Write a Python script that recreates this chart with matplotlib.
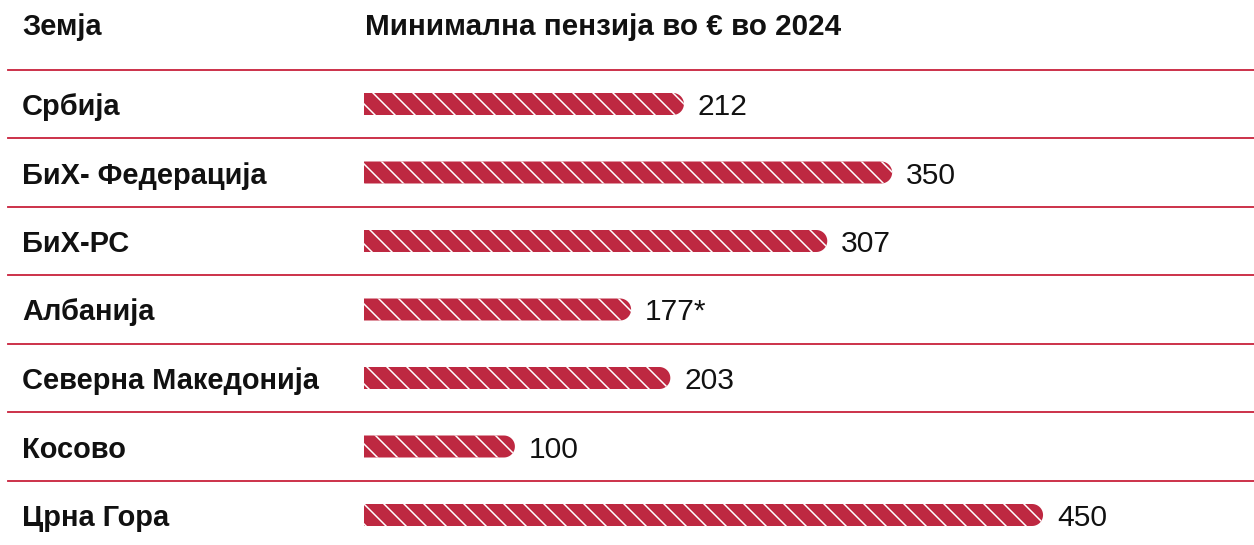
import numpy as np
import matplotlib.pyplot as plt
from matplotlib.path import Path
from matplotlib.patches import PathPatch
from matplotlib.transforms import blended_transform_factory

plt.rcParams['font.family'] = ['Liberation Sans', 'DejaVu Sans']
plt.rcParams['hatch.linewidth'] = 0.9

countries = ['Србија', 'БиХ- Федерација', 'БиХ-РС', 'Албанија',
             'Северна Македонија', 'Косово', 'Црна Гора']
pension = [212, 350, 307, 177, 203, 100, 450]
notes = ['', '', '', '*', '', '', '']

header_left = 'Земја'
header_right = 'Минимална пензија во € во 2024'

RED = '#be2841'
LINE = '#c9253f'

W, H, DPI = 1254, 545, 120
fig = plt.figure(figsize=(W / DPI, H / DPI), dpi=DPI)
ax = fig.add_axes([0, 0, 1, 1])

# pixel layout -> data scales
x0_px, px_per_unit = 364, 1.509
y0_px, row_px = 104, 68.5
ax.set_xlim(-x0_px / px_per_unit, (W - x0_px) / px_per_unit)
ax.set_ylim((H - y0_px) / row_px, -y0_px / row_px)
ax.axis('off')

bar_h_px = 22
ry = bar_h_px / 2 / row_px
rx = bar_h_px / 2 / px_per_unit
dy = 3 / row_px  # nudge text down a bit


def rounded_bar(v, y):
    t = np.linspace(np.pi / 2, -np.pi / 2, 30)
    xs = [0, v - rx] + list(v - rx + rx * np.cos(t)) + [0, 0]
    ys = [y - ry, y - ry] + list(y - ry * np.sin(t)) + [y + ry, y - ry]
    verts = list(zip(xs, ys))
    codes = [Path.MOVETO] + [Path.LINETO] * (len(verts) - 2) + [Path.CLOSEPOLY]
    return Path(verts, codes)


tr = blended_transform_factory(ax.transAxes, ax.transData)

for i, (c, v, n) in enumerate(zip(countries, pension, notes)):
    patch = PathPatch(rounded_bar(v, i), facecolor=RED, edgecolor='white',
                      linewidth=0, hatch='\\\\')
    ax.add_patch(patch)
    ax.axhline(i - 0.5, xmin=8 / W, xmax=1, color=LINE, lw=1.1)
    ax.text(22 / W, i + dy, c, transform=tr, ha='left', va='center',
            fontsize=17.4, fontweight='bold', color='#111111')
    ax.text(v + 14 / px_per_unit, i + dy, f'{v}{n}', ha='left', va='center',
            fontsize=18, color='#111111')

hy = (24 - y0_px) / row_px + dy
ax.text(22 / W, hy, header_left, transform=tr, ha='left', va='center',
        fontsize=17.4, fontweight='bold', color='#111111')
ax.text(1 / px_per_unit, hy, header_right, ha='left', va='center',
        fontsize=17.8, fontweight='bold', color='#111111')

fig.savefig('out.png', dpi=DPI)
